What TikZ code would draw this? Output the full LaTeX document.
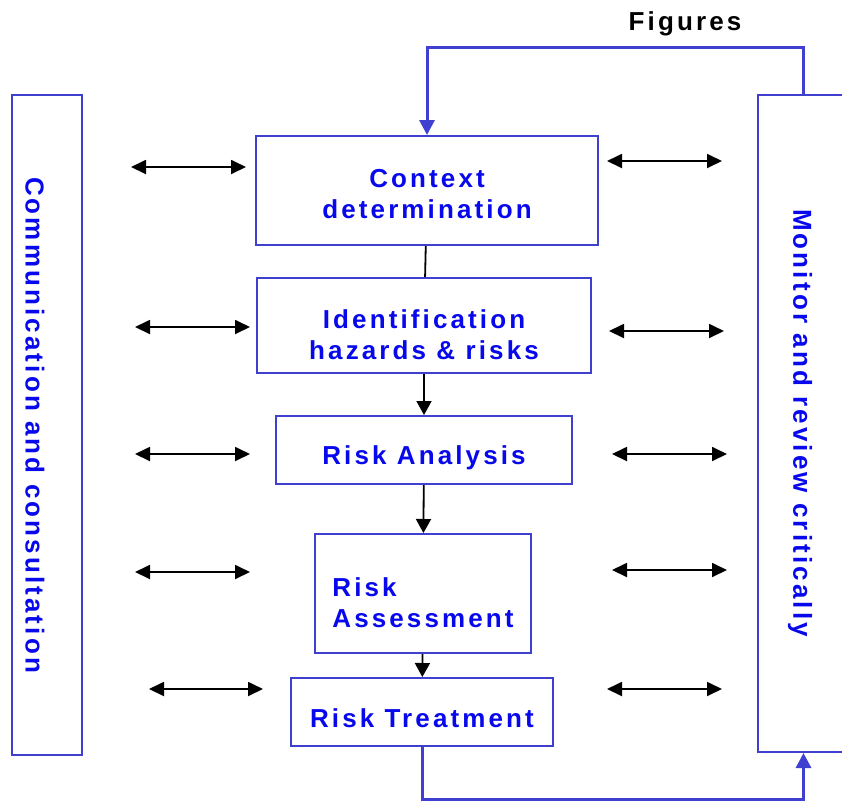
\documentclass[tikz,border=0pt]{standalone}
\usepackage{fontspec}
\setmainfont{Liberation Sans}
\newfontfamily\spacedsans[LetterSpace=12]{Liberation Sans}
\usepackage{xcolor}
\definecolor{frameblue}{RGB}{64,64,208}
\definecolor{textblue}{RGB}{8,8,236}
\usetikzlibrary{arrows.meta,positioning,calc}

% box text, lowered inside its box without changing the box size
\newcommand{\stagelabel}[3][c]{\raisebox{-#2}[\height][\depth]{\begin{tabular}{@{}#1@{}}#3\end{tabular}}}

\tikzset{
  stage/.style={draw=frameblue, line width=1pt, fill=white, text=textblue,
    font=\spacedsans\bfseries\fontsize{13}{15.5}\selectfont, inner sep=0pt},
  panel/.style={draw=frameblue, line width=1pt, inner sep=0pt},
  paneltext/.style={rotate=-90, text=textblue, font=\spacedsans\bfseries\fontsize{13}{15}\selectfont},
  flow/.style={-{Triangle[length=7pt,width=7.5pt]}, line width=0.9pt},
  talk/.style={{Triangle[length=7.5pt,width=7pt]}-{Triangle[length=7.5pt,width=7pt]}, line width=0.9pt},
  loopline/.style={frameblue, line width=1.5pt},
}

\begin{document}
\begin{tikzpicture}[x=0.5pt, y=-0.5pt]
  \useasboundingbox (0,0) rectangle (842,800);

  % side panels
  \node[panel, minimum width=35pt, minimum height=330pt] (comm) at (47,425) {};
  \node[paneltext] (commtext) at (35,425) {Communication and consultation};
  \node[panel, minimum width=46pt, minimum height=328.5pt] (monitor) at (803.5,423.5) {};
  \node[paneltext] (monitortext) at (800,423) {Monitor and review critically};

  % process steps
  \node[stage, minimum width=171pt, minimum height=54.5pt] (context) at (427,190.5) {\stagelabel{3pt}{Context\\determination}};
  \node[stage, minimum width=167pt, minimum height=47.5pt] (ident) at (424,325.5) {\stagelabel{6pt}{Identification\\hazards \& risks}};
  \node[stage, minimum width=148pt, minimum height=34pt] (analysis) at (424,450) {\stagelabel{4.2pt}{Risk Analysis}};
  \node[stage, minimum width=108pt, minimum height=59.5pt] (assess) at (423,593.5) {\stagelabel[l]{6pt}{Risk\\Assessment}};
  \node[stage, minimum width=131pt, minimum height=34pt] (treat) at (422,712) {\stagelabel{4.5pt}{Risk Treatment}};

  \draw[line width=0.9pt] (context) -- (ident);
  \draw[flow] (ident) -- (analysis);
  \draw[flow] (analysis) -- (assess);
  \draw[flow] (assess) -- (treat);

  % feedback loop
  \node[font=\spacedsans\bfseries\fontsize{13}{15}\selectfont] (figures) at (685,23.5) {Figures};
  \draw[loopline, -{Triangle[length=7.5pt,width=7.5pt]}] (monitor.north) -- ++(0,-47) -| (context.north);
  \draw[loopline, -{Triangle[length=7.5pt,width=7.5pt]}] (treat.south) -- ++(0,52) -| (monitor.south);

  % consultation arrows
  \foreach \xa/\xb/\y in {131/246/167, 135/250/327, 135/250/454, 135/250/572, 149/263/689,
                          607/722/161, 609/724/331, 612/727/454, 612/727/570, 607/722/689}
    \draw[talk] (\xa,\y) -- (\xb,\y);
\end{tikzpicture}
\end{document}
